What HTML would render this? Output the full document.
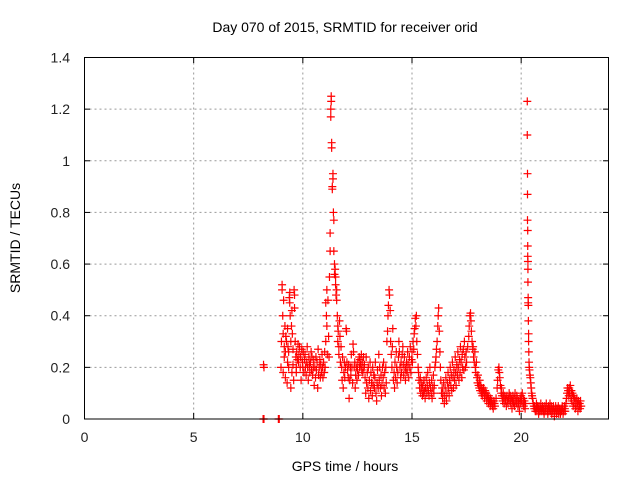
<!DOCTYPE html>
<html><head><meta charset="utf-8"><style>
body{margin:0;background:#fff;}
svg{display:block;font-family:"Liberation Sans",sans-serif;}
</style></head><body>
<svg id="chart" width="640" height="480">
<text x="345" y="32" font-size="14" text-anchor="middle">Day 070 of 2015, SRMTID for receiver orid</text>
<text x="345" y="471" font-size="14" text-anchor="middle">GPS time / hours</text>
<text transform="translate(20,238) rotate(-90)" font-size="14" text-anchor="middle">SRMTID / TECUs</text>
<g id="grid"></g><g id="ticks"></g><g id="marks"></g>
<rect x="84.5" y="57.5" width="524" height="361.5" fill="none" stroke="#000"/>
</svg>
<script>
const xTicks=[0,5,10,15,20];
const yTicks=[0,0.2,0.4,0.6,0.8,1,1.2,1.4];
const yTickLabels=["0","0.2","0.4","0.6","0.8","1","1.2","1.4"];
// [hour, TECU] samples per time segment
const segEarly=[[8.2,0.21],[8.22,0.2],[8.18,0.0],[8.22,0.0],[8.88,0.0],[8.92,0.0]];
const segA=[[9.0,0.2],[9.02,0.3],[9.05,0.52],[9.05,0.5],[9.08,0.4],[9.1,0.18],[9.1,0.33],[9.12,0.46],[9.15,0.28],[9.15,0.24],[9.18,0.36],[9.2,0.16],[9.2,0.26],[9.22,0.32],[9.25,0.3],[9.28,0.14],[9.3,0.22],[9.3,0.35],[9.32,0.28],[9.35,0.2],[9.35,0.26],[9.38,0.47],[9.4,0.49],[9.4,0.45],[9.42,0.4],[9.45,0.12],[9.45,0.3],[9.48,0.36],[9.5,0.18],[9.5,0.42],[9.52,0.33],[9.55,0.27],[9.55,0.21],[9.58,0.15],[9.6,0.5],[9.62,0.48],[9.62,0.43],[9.65,0.3],[9.68,0.24],[9.7,0.18],[9.7,0.2],[9.72,0.26],[9.75,0.23],[9.78,0.29],[9.8,0.22],[9.82,0.25],[9.85,0.28],[9.88,0.2],[9.9,0.24],[9.92,0.15],[9.95,0.27],[9.98,0.22],[10.0,0.2],[10.02,0.26],[10.05,0.18],[10.08,0.23],[10.1,0.25],[10.12,0.2],[10.15,0.17],[10.18,0.22],[10.2,0.28],[10.22,0.2],[10.25,0.15],[10.28,0.24],[10.3,0.21],[10.32,0.18],[10.35,0.22],[10.38,0.26],[10.4,0.19],[10.42,0.24],[10.45,0.17],[10.48,0.2],[10.5,0.23],[10.52,0.13],[10.55,0.2],[10.58,0.16],[10.6,0.24],[10.62,0.19],[10.65,0.22],[10.68,0.12],[10.7,0.27],[10.72,0.17],[10.75,0.2],[10.78,0.23],[10.8,0.16],[10.82,0.21],[10.85,0.18],[10.88,0.25],[10.9,0.2],[10.92,0.16],[10.95,0.22],[10.98,0.18],[11.0,0.26]];
const segB=[[11.02,0.2],[11.05,0.3],[11.05,0.45],[11.08,0.4],[11.1,0.5],[11.1,0.36],[11.12,0.25],[11.15,0.46],[11.18,0.32],[11.2,0.24],[11.22,0.55],[11.25,0.65],[11.25,0.72],[11.28,1.17],[11.28,1.2],[11.3,1.25],[11.3,1.23],[11.32,1.05],[11.32,1.07],[11.35,0.9],[11.35,0.89],[11.38,0.95],[11.38,0.93],[11.4,0.8],[11.42,0.77],[11.42,0.65],[11.45,0.6],[11.45,0.56],[11.48,0.58],[11.5,0.52],[11.5,0.55],[11.52,0.48],[11.55,0.46],[11.55,0.5],[11.58,0.4],[11.6,0.36],[11.6,0.3],[11.62,0.34],[11.65,0.28],[11.65,0.25],[11.68,0.38],[11.7,0.32],[11.72,0.22],[11.75,0.28],[11.78,0.2],[11.8,0.15],[11.82,0.24],[11.85,0.12],[11.88,0.18],[11.9,0.22],[11.92,0.16],[11.95,0.2],[11.98,0.35],[12.0,0.34],[12.02,0.22],[12.05,0.19],[12.08,0.16],[12.1,0.21],[12.12,0.08],[12.15,0.15],[12.18,0.2],[12.2,0.17],[12.22,0.25],[12.25,0.2],[12.28,0.14],[12.3,0.29],[12.32,0.26],[12.35,0.2],[12.38,0.22],[12.4,0.12],[12.42,0.17],[12.45,0.2],[12.48,0.15],[12.5,0.19],[12.52,0.22],[12.55,0.17],[12.58,0.24],[12.6,0.2],[12.62,0.23],[12.65,0.21],[12.68,0.25],[12.7,0.19],[12.72,0.22],[12.75,0.18],[12.78,0.24],[12.8,0.2],[12.82,0.21],[12.85,0.16],[12.88,0.1],[12.9,0.24],[12.92,0.14],[12.95,0.18],[12.98,0.12],[13.0,0.2],[13.02,0.08],[13.05,0.15],[13.08,0.22],[13.1,0.11],[13.12,0.18],[13.15,0.14],[13.18,0.09],[13.2,0.2],[13.22,0.13],[13.25,0.17],[13.28,0.12],[13.3,0.16],[13.32,0.22],[13.35,0.1],[13.38,0.07],[13.4,0.14],[13.42,0.19],[13.45,0.12],[13.48,0.25],[13.5,0.15],[13.52,0.2],[13.55,0.12],[13.58,0.17],[13.6,0.09],[13.62,0.13],[13.65,0.2],[13.68,0.16],[13.7,0.22],[13.72,0.12],[13.75,0.18],[13.78,0.1],[13.8,0.2],[13.82,0.14]];
const segC=[[13.85,0.3],[13.88,0.34],[13.9,0.4],[13.92,0.44],[13.95,0.5],[13.97,0.48],[14.0,0.42],[14.02,0.3],[14.05,0.25],[14.08,0.2],[14.1,0.28],[14.12,0.35],[14.15,0.15],[14.18,0.18],[14.2,0.12],[14.22,0.22],[14.25,0.16],[14.28,0.26],[14.3,0.2],[14.32,0.14],[14.35,0.18],[14.38,0.24],[14.4,0.3],[14.42,0.26],[14.45,0.2],[14.48,0.16],[14.5,0.22],[14.52,0.18],[14.55,0.25],[14.58,0.28],[14.6,0.21],[14.62,0.17],[14.65,0.24],[14.68,0.2],[14.7,0.15],[14.72,0.19],[14.75,0.22],[14.78,0.18],[14.8,0.26],[14.82,0.21],[14.85,0.16],[14.88,0.24],[14.9,0.2],[14.92,0.28],[14.95,0.18],[14.98,0.23],[15.0,0.26],[15.02,0.22],[15.05,0.3],[15.08,0.27],[15.1,0.33],[15.12,0.35],[15.15,0.39],[15.18,0.36],[15.2,0.4],[15.22,0.3],[15.25,0.25],[15.28,0.2],[15.3,0.18],[15.32,0.15],[15.35,0.12],[15.38,0.16],[15.4,0.1],[15.42,0.14],[15.45,0.12],[15.48,0.09],[15.5,0.13],[15.52,0.1],[15.55,0.15],[15.58,0.11],[15.6,0.08],[15.62,0.12],[15.65,0.16],[15.68,0.1],[15.7,0.13],[15.72,0.18],[15.75,0.11],[15.78,0.09],[15.8,0.14],[15.82,0.2],[15.85,0.12],[15.88,0.1],[15.9,0.15],[15.92,0.08],[15.95,0.12],[15.98,0.17],[16.0,0.1],[16.02,0.13],[16.05,0.2],[16.08,0.22],[16.1,0.24],[16.12,0.27],[16.15,0.3],[16.18,0.36],[16.2,0.4],[16.22,0.43],[16.25,0.34],[16.28,0.26],[16.3,0.2],[16.32,0.15],[16.35,0.1],[16.38,0.12],[16.4,0.08],[16.42,0.1],[16.45,0.14],[16.48,0.06],[16.5,0.09],[16.52,0.12],[16.55,0.16],[16.58,0.07],[16.6,0.1],[16.62,0.14],[16.65,0.18],[16.68,0.12],[16.7,0.09],[16.72,0.15],[16.75,0.2],[16.78,0.13],[16.8,0.17],[16.82,0.11],[16.85,0.22],[16.88,0.16],[16.9,0.12],[16.92,0.19],[16.95,0.15],[16.98,0.24],[17.0,0.18],[17.02,0.13],[17.05,0.21],[17.08,0.17],[17.1,0.26],[17.12,0.2],[17.15,0.15],[17.18,0.23],[17.2,0.18],[17.22,0.28],[17.25,0.22],[17.28,0.16],[17.3,0.25],[17.32,0.2],[17.35,0.27],[17.38,0.19],[17.4,0.3],[17.42,0.24],[17.45,0.2],[17.48,0.26],[17.5,0.22]];
const segD=[[17.55,0.28],[17.6,0.32],[17.62,0.36],[17.65,0.4],[17.68,0.41],[17.7,0.38],[17.72,0.34],[17.75,0.3],[17.78,0.27],[17.8,0.28],[17.82,0.24],[17.85,0.22],[17.88,0.26],[17.9,0.2],[17.92,0.18],[17.95,0.22],[17.98,0.16],[18.0,0.14],[18.02,0.17],[18.05,0.13],[18.08,0.12],[18.1,0.15],[18.12,0.11],[18.15,0.13],[18.18,0.1],[18.2,0.12],[18.22,0.09],[18.25,0.11],[18.28,0.12],[18.3,0.1],[18.32,0.08],[18.35,0.11],[18.38,0.09],[18.4,0.1],[18.42,0.07],[18.45,0.09],[18.48,0.08],[18.5,0.06],[18.52,0.09],[18.55,0.07],[18.58,0.05],[18.6,0.08],[18.62,0.06],[18.65,0.07],[18.68,0.05],[18.7,0.06],[18.72,0.04],[18.75,0.07],[18.78,0.06],[18.8,0.05],[18.85,0.08],[18.9,0.12],[18.92,0.15],[18.95,0.19],[18.98,0.2],[19.0,0.18],[19.02,0.16],[19.05,0.13],[19.08,0.1],[19.1,0.12],[19.12,0.09],[19.15,0.07],[19.18,0.1],[19.2,0.08],[19.22,0.06],[19.25,0.09],[19.28,0.07],[19.3,0.08],[19.32,0.05],[19.35,0.09],[19.38,0.07],[19.4,0.06],[19.42,0.08],[19.45,0.1],[19.48,0.07],[19.5,0.09],[19.52,0.06],[19.55,0.08],[19.58,0.04],[19.6,0.07],[19.62,0.09],[19.65,0.06],[19.68,0.08],[19.7,0.05],[19.72,0.1],[19.75,0.07],[19.78,0.06],[19.8,0.09],[19.82,0.08],[19.85,0.05],[19.88,0.07],[19.9,0.06],[19.92,0.03],[19.95,0.08],[19.98,0.06],[20.0,0.09],[20.02,0.07],[20.05,0.1],[20.08,0.06],[20.1,0.08],[20.12,0.05],[20.15,0.07],[20.18,0.04],[20.2,0.06]];
const segE=[[20.28,1.23],[20.28,1.1],[20.29,0.95],[20.29,0.87],[20.29,0.77],[20.3,0.73],[20.3,0.67],[20.3,0.63],[20.31,0.61],[20.31,0.58],[20.31,0.53],[20.32,0.47],[20.32,0.45],[20.33,0.44],[20.33,0.38],[20.34,0.33],[20.34,0.3],[20.35,0.26],[20.36,0.22],[20.37,0.2],[20.38,0.19],[20.4,0.17],[20.42,0.16],[20.44,0.14],[20.46,0.12],[20.48,0.1],[20.5,0.09],[20.52,0.08],[20.55,0.06],[20.58,0.05],[20.6,0.04],[20.62,0.05],[20.65,0.03],[20.68,0.04],[20.7,0.06],[20.72,0.03],[20.75,0.05],[20.78,0.04],[20.8,0.02],[20.82,0.05],[20.85,0.03],[20.88,0.04],[20.9,0.06],[20.92,0.03],[20.95,0.04],[20.98,0.05],[21.0,0.03],[21.02,0.04],[21.05,0.02],[21.08,0.05],[21.1,0.03],[21.12,0.04],[21.15,0.06],[21.18,0.03],[21.2,0.04],[21.22,0.02],[21.25,0.05],[21.28,0.03],[21.3,0.04],[21.32,0.06],[21.35,0.03],[21.38,0.05],[21.4,0.02],[21.42,0.04],[21.45,0.03],[21.48,0.05],[21.5,0.04],[21.52,0.01],[21.55,0.03],[21.58,0.05],[21.6,0.04],[21.62,0.02],[21.65,0.04],[21.68,0.03],[21.7,0.05],[21.72,0.02],[21.75,0.04],[21.78,0.03],[21.8,0.02],[21.82,0.04],[21.85,0.03],[21.88,0.05],[21.9,0.04],[21.92,0.02],[21.95,0.03],[21.98,0.05],[22.0,0.04],[22.02,0.03],[22.05,0.06],[22.08,0.08],[22.1,0.1],[22.12,0.12],[22.15,0.11],[22.18,0.09],[22.2,0.12],[22.22,0.1],[22.25,0.13],[22.28,0.08],[22.3,0.11],[22.32,0.07],[22.35,0.1],[22.38,0.05],[22.4,0.09],[22.42,0.06],[22.45,0.08],[22.48,0.04],[22.5,0.07],[22.52,0.05],[22.55,0.08],[22.58,0.06],[22.6,0.03],[22.62,0.07],[22.65,0.05],[22.68,0.06],[22.7,0.04],[22.72,0.07],[22.75,0.05]];
const segments=[segEarly,segA,segB,segC,segD,segE];
const X=h=>84.5+h*(524/24), Y=v=>419-v*(361.5/1.4);
const NS="http://www.w3.org/2000/svg";
const grid=document.getElementById('grid'),ticks=document.getElementById('ticks'),marks=document.getElementById('marks');
function mk(tag,attrs,parent){const e=document.createElementNS(NS,tag);for(const k in attrs)e.setAttribute(k,attrs[k]);parent.appendChild(e);return e;}
xTicks.forEach(t=>{const x=X(t);
 if(t>0){const g=mk('line',{x1:x,x2:x,y1:57.5,y2:419,stroke:'#999','stroke-dasharray':'2,3'},grid);
 
 }
 mk('line',{x1:x,x2:x,y1:419,y2:413,stroke:'#000'},ticks);
 mk('line',{x1:x,x2:x,y1:57.5,y2:63,stroke:'#000'},ticks);
 const l=mk('text',{x:x,y:442,'font-size':14,'text-anchor':'middle',fill:'#222'},ticks);l.textContent=t;
 
 });
yTicks.forEach((t,i)=>{const y=Y(t);
 if(t>0&&t<1.4){const g=mk('line',{x1:84.5,x2:608.5,y1:y,y2:y,stroke:'#999','stroke-dasharray':'2,3'},grid);
 
 }
 mk('line',{x1:84.5,x2:90,y1:y,y2:y,stroke:'#000'},ticks);
 mk('line',{x1:603,x2:608.5,y1:y,y2:y,stroke:'#000'},ticks);
 const l=mk('text',{x:70,y:y+5,'font-size':14,'text-anchor':'end',fill:'#222'},ticks);l.textContent=yTickLabels[i];
 
 });
segments.forEach(seg=>seg.forEach(([t,v])=>{const x=X(t),y=Y(v);
 const p=mk('path',{d:`M${x-4},${y}H${x+4}M${x},${y-4}V${y+4}`,stroke:'#f00','stroke-width':1.2},marks);
 
 }));
</script>
</body></html>
